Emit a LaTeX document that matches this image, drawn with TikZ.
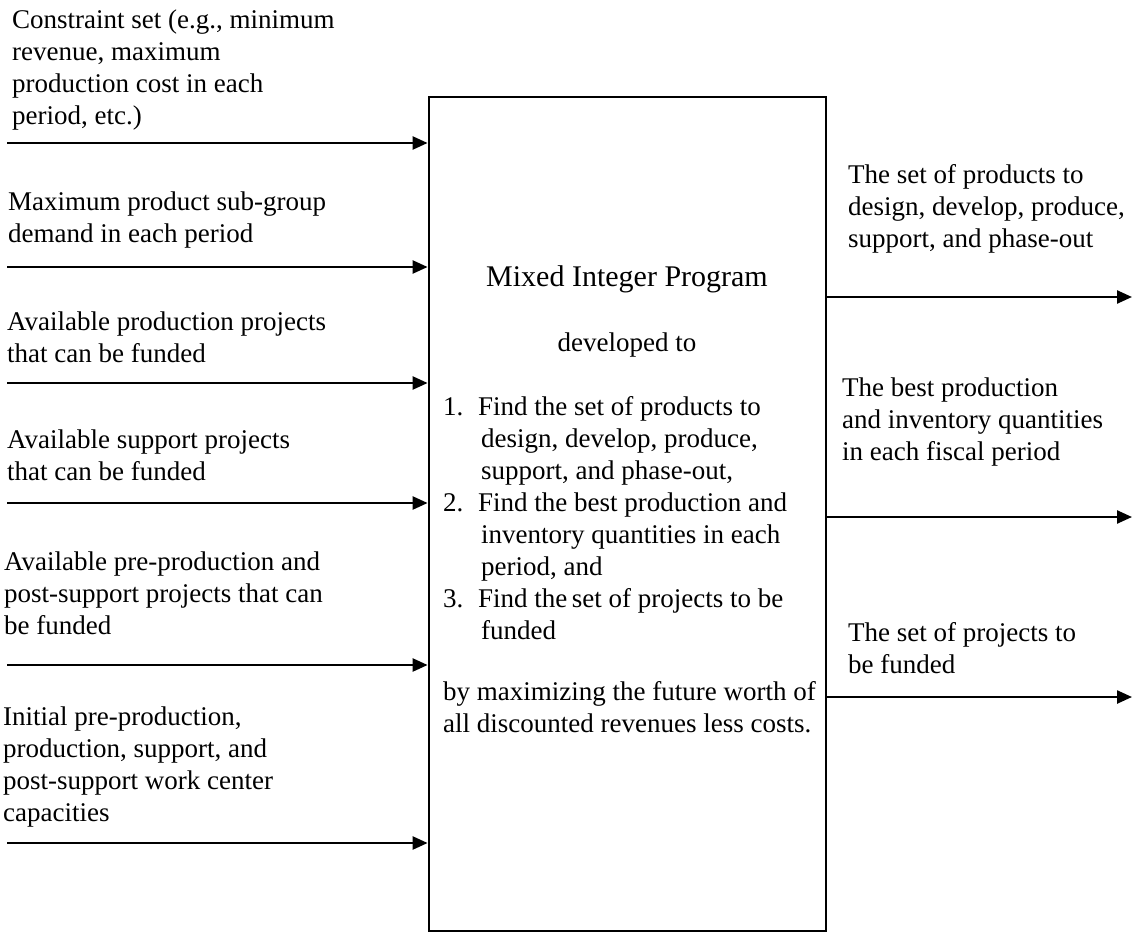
\documentclass[tikz,border=0pt]{standalone}
\usepackage{fontspec}
\setmainfont{Liberation Serif}
\usetikzlibrary{arrows.meta}

\begin{document}
\begin{tikzpicture}[x=1pt,y=-1pt,
    lbl/.style={anchor=north west, inner sep=0pt, align=left,
                font=\fontsize{27}{32}\selectfont},
    txt/.style={inner sep=0pt, font=\fontsize{27}{32}\selectfont},
    flow/.style={line width=2.4pt, -{Triangle[length=15pt,width=13pt]}},
    modelbox/.style={draw, line width=2.8pt, minimum width=397pt,
                     minimum height=834pt, inner sep=0pt}]
  \useasboundingbox (0,0) rectangle (1134,934);

  % central model block
  \node[modelbox] (mip) at (627.5,514) {};
  \node[txt, anchor=base, font=\fontsize{30}{36}\selectfont] (title) at (627,286)
    {Mixed Integer Program};
  \node[txt, anchor=base] (dev) at (627,351) {developed to};
  \node[lbl] (goals) at (443,392.6)
    {\strut\makebox[35pt][l]{1.}Find the set of products to\\
     \hspace*{38pt}design, develop, produce,\\
     \hspace*{38pt}support, and phase-out,\\
     \makebox[35pt][l]{2.}Find the best production and\\
     \hspace*{38pt}inventory quantities in each\\
     \hspace*{38pt}period, and\\
     \makebox[35pt][l]{3.}Find the\,set of projects to be\\
     \hspace*{38pt}funded};
  \node[lbl] (obj) at (443,677.6)
    {\strut by maximizing the future worth of\\
     all discounted revenues less costs.};

  % inputs
  \node[lbl] (i1) at (12,5.6)
    {\strut Constraint set (e.g., minimum\\ revenue, maximum\\
     production cost in each\\ period, etc.)};
  \node[lbl] (i2) at (8,187.6)
    {\strut Maximum product sub-group\\ demand in each period};
  \node[lbl] (i3) at (7,307.6)
    {\strut Available production projects\\ that can be funded};
  \node[lbl] (i4) at (7,425.6)
    {\strut Available support projects\\ that can be funded};
  \node[lbl] (i5) at (4,547.6)
    {\strut Available pre-production and\\ post-support projects that can\\
     be funded};
  \node[lbl] (i6) at (3,702.6)
    {\strut Initial pre-production,\\ production, support, and\\
     post-support work center\\ capacities};

  \coordinate (a1) at (7,143);
  \coordinate (a2) at (7,267);
  \coordinate (a3) at (7,383);
  \coordinate (a4) at (7,503);
  \coordinate (a5) at (7,665);
  \coordinate (a6) at (7,843);
  \foreach \k in {1,...,6}
    \draw[flow] (a\k) -- (a\k -| mip.west);

  % outputs
  \node[lbl] (o1) at (848,160.6)
    {\strut The set of products to\\ design, develop, produce,\\
     support, and phase-out};
  \node[lbl] (o2) at (842,373.6)
    {\strut The best production\\ and inventory quantities\\
     in each fiscal period};
  \node[lbl] (o3) at (848,618.6)
    {\strut The set of projects to\\ be funded};

  \coordinate (b1) at (1132,297);
  \coordinate (b2) at (1132,517);
  \coordinate (b3) at (1132,697);
  \foreach \k in {1,2,3}
    \draw[flow] (b\k -| mip.east) -- (b\k);
\end{tikzpicture}
\end{document}
